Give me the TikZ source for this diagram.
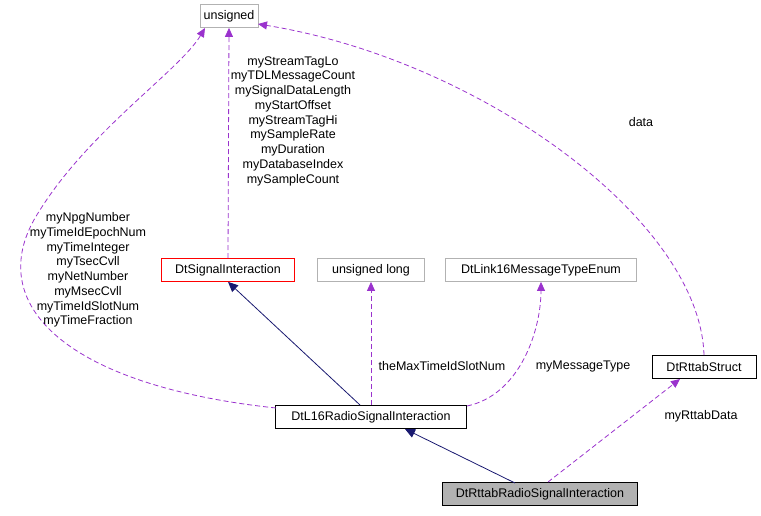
\documentclass[tikz,border=0pt]{standalone}
\usepackage{fontspec}
\setmainfont{Liberation Sans}
\usetikzlibrary{arrows.meta}
\definecolor{edgep}{HTML}{9A32CD}
\definecolor{navy}{HTML}{191970}
\begin{document}
\begin{tikzpicture}[x=1pt,y=-1pt,font=\fontsize{12.5}{14.75}\selectfont,
  box/.style={draw=black,fill=white,minimum height=23pt,inner xsep=2pt,anchor=center,line width=0.8pt},
  gbox/.style={box,draw=gray!60},
  rbox/.style={box,draw=red},
  use/.style={draw=edgep,line width=0.8pt,dash pattern=on 5pt off 3pt,-{Triangle[length=9pt,width=8pt,fill=edgep]}},
  inh/.style={draw=navy,line width=0.8pt,-{Triangle[length=10pt,width=9pt,fill=navy]}},
  lbl/.style={align=center,inner sep=0pt}]
\useasboundingbox (0,0) rectangle (761,515);
\node[gbox,minimum width=58pt] (u) at (229,16) {unsigned};
\node[rbox,minimum width=133pt] (si) at (228,270) {DtSignalInteraction};
\node[gbox,minimum width=107pt] (ul) at (371,270) {unsigned long};
\node[gbox,minimum width=191pt] (le) at (541,270) {DtLink16MessageTypeEnum};
\node[box,minimum width=104pt] (rs) at (704,367) {DtRttabStruct};
\node[box,minimum width=191pt] (l16) at (371,417) {DtL16RadioSignalInteraction};
\node[box,fill=gray!60,minimum width=195pt] (rr) at (540,494) {DtRttabRadioSignalInteraction};
\draw[inh] (360,405) -- (si.south);
\draw[inh] (515,483) -- (405,429);
\draw[use] (si.north) -- (u.south);
\draw[use] (l16.north) -- (ul.south);
\draw[use] (467,406) .. controls (520,395) and (541,330) .. (le.south);
\draw[use] (548,482) -- (680,379);
\draw[use] (rs.north) .. controls (700,220) and (480,60) .. (258,24);
\draw[use] (276,408) .. controls (60,385) and (-20,300) .. (40,210) .. controls (90,130) and (180,70) .. (205,28);
\node[lbl] at (293,121) {myStreamTagLo\\myTDLMessageCount\\mySignalDataLength\\myStartOffset\\myStreamTagHi\\mySampleRate\\myDuration\\myDatabaseIndex\\mySampleCount};
\node[lbl] at (88,270) {myNpgNumber\\myTimeIdEpochNum\\myTimeInteger\\myTsecCvll\\myNetNumber\\myMsecCvll\\myTimeIdSlotNum\\myTimeFraction};
\node[lbl] at (442,366) {theMaxTimeIdSlotNum};
\node[lbl] at (583,366) {myMessageType};
\node[lbl] at (641,122) {data};
\node[lbl] at (701,416) {myRttabData};
\end{tikzpicture}
\end{document}
